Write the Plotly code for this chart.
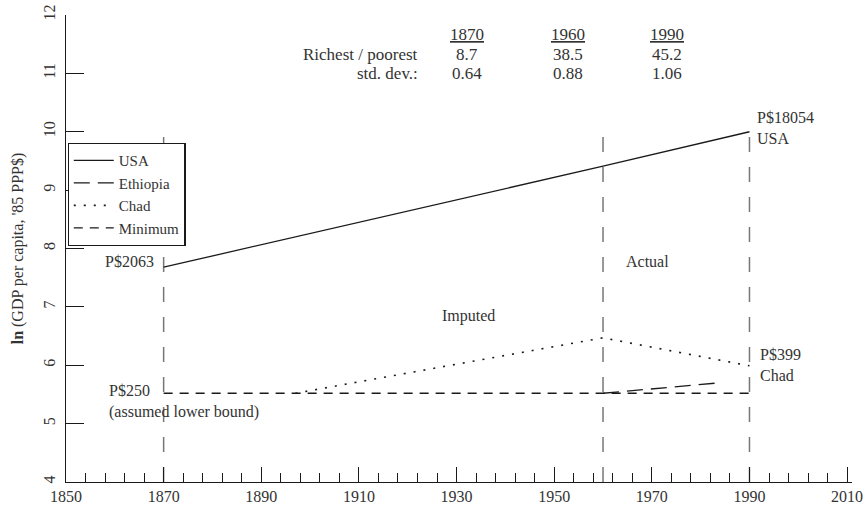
import plotly.graph_objects as go

# ---- data ----
usa_years = [1870, 1960, 1990]
usa_vals = [7.68, 9.41, 10.0]
eth_years = [1960, 1984]
eth_vals = [5.52, 5.70]
chad_years = [1897, 1960, 1990]
chad_vals = [5.52, 6.47, 5.99]
min_years = [1870, 1990]
min_vals = [5.52, 5.52]
divider_years = [1870, 1960, 1990]
divider_top = 10.05

table_years = ["1870", "1960", "1990"]
ratio_vals = ["8.7", "38.5", "45.2"]
sd_vals = ["0.64", "0.88", "1.06"]

FONT = "Liberation Serif"
INK = "#1a1a1a"
TXT = "#333333"
FS = 16

fig = go.Figure()
fig.add_trace(go.Scatter(x=usa_years, y=usa_vals, mode="lines", name="USA",
                         line=dict(color=INK, width=1.3)))
fig.add_trace(go.Scatter(x=eth_years, y=eth_vals, mode="lines", name="Ethiopia",
                         line=dict(color=INK, width=1.3, dash="16px,8px")))
fig.add_trace(go.Scatter(x=chad_years, y=chad_vals, mode="lines", name="Chad",
                         line=dict(color=INK, width=1.6, dash="2px,8px")))
fig.add_trace(go.Scatter(x=min_years, y=min_vals, mode="lines", name="Minimum",
                         line=dict(color=INK, width=1.3, dash="9px,7px")))

for yr in divider_years:
    fig.add_shape(type="line", x0=yr, x1=yr, y0=4, y1=divider_top, xref="x", yref="y",
                  line=dict(color="#777777", width=1.5, dash="15px,15px"), layer="below")

ann = []
def txt(x, y, s, xanchor="center", xshift=0, size=FS, align="left"):
    ann.append(dict(x=x, y=y, xref="x", yref="y", text=s, showarrow=False,
                    xanchor=xanchor, yanchor="middle", xshift=xshift, align=align,
                    font=dict(family=FONT, size=size, color=TXT)))

txt(usa_years[0], 7.78, "P$2063", xanchor="right", xshift=-8)
txt(usa_years[-1], 10.06, "P$18054<br>USA", xanchor="left", xshift=6)
txt(1969.2, 7.78, "Actual")
txt(1932.5, 6.85, "Imputed")
txt(chad_years[-1], 6.0, "P$399<br>Chad", xanchor="left", xshift=9)
txt(1858.4, 5.38, "P$250<br>(assumed lower bound)", xanchor="left")

col_x = [1932.1, 1952.8, 1973.1]
for cx, yr, r, s in zip(col_x, table_years, ratio_vals, sd_vals):
    txt(cx, 11.66, "<u>" + yr + "</u>", size=17)
    txt(cx, 11.33, r, size=17)
    txt(cx, 11.0, s, size=17)
txt(1922.5, 11.33, "Richest / poorest", xanchor="right", size=17)
txt(1922.5, 11.0, "std. dev.:", xanchor="right", size=17)

fig.update_layout(
    width=865, height=505,
    margin=dict(l=66, r=13, t=15, b=23),
    paper_bgcolor="white", plot_bgcolor="white",
    font=dict(family=FONT, size=FS, color=TXT),
    annotations=ann,
    showlegend=True,
    legend=dict(x=0.002, y=0.726, xanchor="left", yanchor="top",
                bordercolor=INK, borderwidth=1.2, bgcolor="white",
                font=dict(family=FONT, size=15, color=TXT),
                tracegroupgap=0, itemwidth=40),
    xaxis=dict(range=[1850, 2011], tick0=1850, dtick=20, ticks="inside", ticklen=15,
               tickcolor=INK, showline=True, linecolor=INK, linewidth=1.2,
               showgrid=False, zeroline=False, automargin=False,
               tickfont=dict(family=FONT, size=FS, color=TXT),
               minor=dict(tick0=1850, dtick=4, ticks="inside", ticklen=9, tickcolor=INK,
                          showgrid=False)),
    yaxis=dict(range=[4, 12], dtick=1, ticks="inside", ticklen=18, tickcolor=INK,
               showline=True, linecolor=INK, linewidth=1.2, showgrid=False,
               zeroline=False, tickangle=-90, ticklabelstandoff=4, automargin=False,
               tickfont=dict(family=FONT, size=FS, color=TXT),
               title=dict(text="<b>ln</b> (GDP per capita, '85 PPP$)",
                          font=dict(family=FONT, size=FS, color=TXT), standoff=12)),
)

fig.write_html("out.html", config={"displayModeBar": False},
               post_script="document.body.style.margin='0';")
